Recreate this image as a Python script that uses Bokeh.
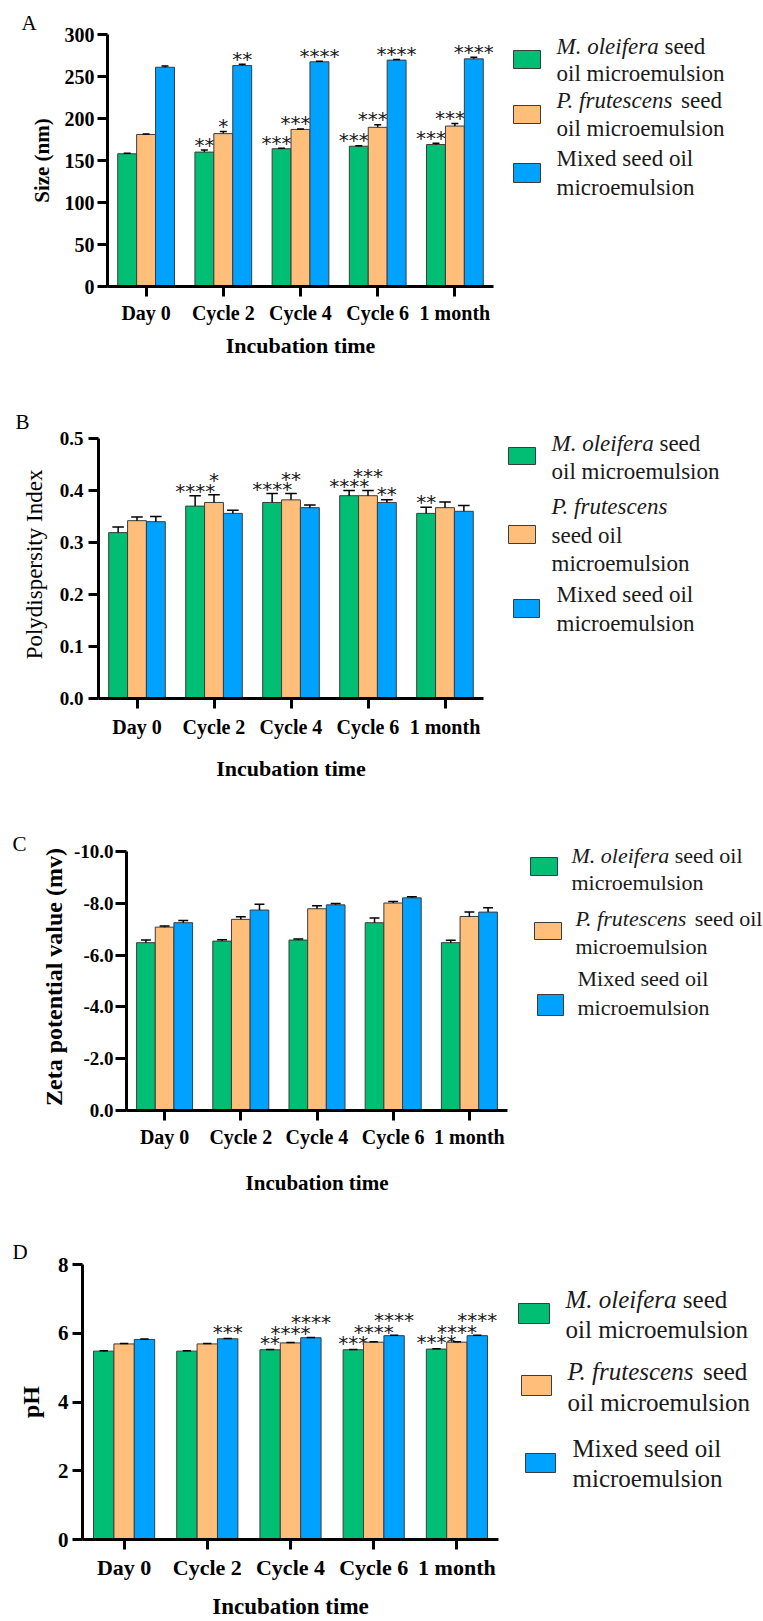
from bokeh.plotting import figure
from bokeh.layouts import column, row
from bokeh.models import ColumnDataSource, FactorRange, Range1d, FixedTicker, PrintfTickFormatter, Label
from bokeh.transform import dodge
from bokeh.core.properties import value
from bokeh.embed import file_html
from bokeh.resources import INLINE

# ---------------- data ----------------
categories = ["Day 0", "Cycle 2", "Cycle 4", "Cycle 6", "1 month"]

# A: droplet size (nm)
size_moringa = [158, 160, 164, 167, 169]
size_moringa_err = [0.6, 2.5, 0.6, 0.6, 1.5]
size_perilla = [181, 182, 187, 189.5, 191]
size_perilla_err = [0.6, 2.5, 0.6, 3.0, 3.0]
size_mixed = [261, 263, 267.5, 269.5, 271]
size_mixed_err = [1.5, 1.5, 0.6, 0.6, 2.0]
size_sig_moringa = ["", "**", "****", "****", "****"]
size_sig_perilla = ["", "*", "****", "****", "****"]
size_sig_mixed = ["", "**", "****", "****", "****"]
size_ticks = [0, 50, 100, 150, 200, 250, 300]

# B: polydispersity index
pdi_moringa = [0.319, 0.370, 0.377, 0.390, 0.356]
pdi_moringa_err = [0.011, 0.020, 0.017, 0.010, 0.012]
pdi_perilla = [0.342, 0.377, 0.382, 0.390, 0.367]
pdi_perilla_err = [0.007, 0.015, 0.012, 0.010, 0.011]
pdi_mixed = [0.340, 0.356, 0.367, 0.377, 0.360]
pdi_mixed_err = [0.010, 0.006, 0.005, 0.005, 0.011]
pdi_sig_moringa = ["", "****", "****", "****", "**"]
pdi_sig_perilla = ["", "*", "**", "***", ""]
pdi_sig_mixed = ["", "", "", "**", ""]
pdi_ticks = [0.0, 0.1, 0.2, 0.3, 0.4, 0.5]

# C: zeta potential (mV)
zeta_moringa = [-6.48, -6.54, -6.58, -7.25, -6.48]
zeta_moringa_err = [0.10, 0.05, 0.04, 0.18, 0.09]
zeta_perilla = [-7.08, -7.38, -7.79, -8.01, -7.49]
zeta_perilla_err = [0.04, 0.10, 0.12, 0.06, 0.17]
zeta_mixed = [-7.25, -7.74, -7.94, -8.21, -7.66]
zeta_mixed_err = [0.09, 0.22, 0.05, 0.04, 0.17]
zeta_sig_none = ["", "", "", "", ""]
zeta_ticks = [0.0, -2.0, -4.0, -6.0, -8.0, -10.0]

# D: pH
ph_moringa = [5.48, 5.48, 5.52, 5.52, 5.54]
ph_moringa_err = [0.01, 0.01, 0.01, 0.01, 0.01]
ph_perilla = [5.69, 5.69, 5.72, 5.74, 5.74]
ph_perilla_err = [0.01, 0.01, 0.01, 0.01, 0.01]
ph_mixed = [5.82, 5.84, 5.87, 5.93, 5.93]
ph_mixed_err = [0.01, 0.01, 0.01, 0.01, 0.01]
ph_sig_moringa = ["", "", "**", "***", "****"]
ph_sig_perilla = ["", "", "****", "****", "****"]
ph_sig_mixed = ["", "***", "****", "****", "****"]
ph_ticks = [0, 2, 4, 6, 8]

# ---------------- style ----------------
FONT = "Liberation Serif"
STAR_FONT = "DejaVu Sans"
COLORS = ["#00BE73", "#FFBE7A", "#00A2FF"]
EDGE = "#3c3c3c"
PAGE_W = 763
OFFSETS = [-0.245, 0.0, 0.245]
BAR_W = 0.245
ITALIC_EM = {"M. oleifera": 4.444, "P. frutescens": 5.166}
SPACE_EM = 0.25


def make_panel(letter, series, errs, sigs, yr, yticks, yfmt, ylabel, g):
    sign = -1 if yr[1] < yr[0] else 1
    data = dict(cat=categories)
    for k in range(3):
        data[f"v{k}"] = series[k]
        data[f"hi{k}"] = [v + sign * e for v, e in zip(series[k], errs[k])]
        data[f"s{k}"] = sigs[k]
        data[f"yo{k}"] = g["star_off"][k]
    src = ColumnDataSource(data)

    ext = g["ext"]                      # extra frame space above the axis top (axis line bounded)
    t_new = g["t"] - ext
    fh_new = g["fh"] + ext
    y_end = yr[1] + ext * (yr[1] - yr[0]) / g["fh"]
    r = g["w"] - g["l"] - g["fw"]

    p = figure(x_range=FactorRange(*categories), y_range=Range1d(yr[0], y_end),
               frame_width=g["fw"], frame_height=fh_new,
               min_border_left=g["l"], min_border_right=r,
               min_border_top=t_new, min_border_bottom=g["b"], output_backend="svg",
               toolbar_location=None, title=letter)
    p.outline_line_color = None
    p.xgrid.visible = False
    p.ygrid.visible = False

    for k in range(3):
        off = OFFSETS[k]
        p.vbar(x=dodge("cat", off, range=p.x_range), top=f"v{k}", bottom=0, width=BAR_W, source=src,
               fill_color=COLORS[k], line_color=EDGE, line_width=1)
        p.segment(x0=dodge("cat", off, range=p.x_range), y0=f"v{k}", x1=dodge("cat", off, range=p.x_range),
                  y1=f"hi{k}", source=src, line_color="black", line_width=1.5)
        p.segment(x0=dodge("cat", off - g["cap"], range=p.x_range), y0=f"hi{k}",
                  x1=dodge("cat", off + g["cap"], range=p.x_range), y1=f"hi{k}", source=src,
                  line_color="black", line_width=1.5)
        p.text(x=dodge("cat", off, range=p.x_range), y=f"hi{k}", text=f"s{k}", source=src,
               text_font=value(STAR_FONT), text_font_size="20px", text_align="center",
               text_baseline="alphabetic", y_offset=f"yo{k}", text_color="#1a1a1a")

    for ax in (p.xaxis[0], p.yaxis[0]):
        ax.axis_line_width = 3
        ax.axis_line_color = "black"
        ax.major_tick_line_width = 3
        ax.major_tick_line_color = "black"
        ax.major_tick_in = 0
        ax.minor_tick_line_color = None
        ax.major_label_text_font = FONT
        ax.major_label_text_font_style = "bold"
        ax.major_label_text_color = "black"
        ax.axis_label_text_font = FONT
        ax.axis_label_text_color = "black"

    xa = p.xaxis[0]
    xa.major_tick_out = 10
    xa.major_label_text_font_size = g["xtick_fs"]
    xa.major_label_standoff = g["xtick_so"]
    xa.axis_label = "Incubation time"
    xa.axis_label_text_font_size = g["xlab_fs"]
    xa.axis_label_text_font_style = "bold"
    xa.axis_label_standoff = g["xlab_so"]

    ya = p.yaxis[0]
    ya.ticker = FixedTicker(ticks=yticks)
    ya.formatter = PrintfTickFormatter(format=yfmt)
    ya.bounds = (min(yr), max(yr))
    ya.major_tick_out = g["ytick_len"]
    ya.major_label_text_font_size = g["ytick_fs"]
    ya.major_label_standoff = g["ytick_so"]
    ya.axis_label = ylabel
    ya.axis_label_text_font_size = g["ylab_fs"]
    ya.axis_label_text_font_style = g["ylab_style"]
    ya.axis_label_standoff = g["ylab_so"]

    p.title.align = "left"
    p.title.offset = g["title_off"]
    p.title.standoff = g["title_so"] - ext
    p.title.text_font = FONT
    p.title.text_font_size = "21px"
    p.title.text_font_style = "normal"
    p.title.text_color = "black"

    # legend figure; its frame lines up with the main frame, ranges in page pixels
    y_top = g["top"] + t_new
    y_bot = y_top + fh_new
    lg = figure(frame_width=PAGE_W - g["w"], frame_height=fh_new,
                x_range=Range1d(g["w"], PAGE_W), y_range=Range1d(y_bot, y_top),
                min_border_left=0, min_border_right=0,
                min_border_top=t_new, min_border_bottom=g["b"],
                x_axis_location=None, y_axis_location=None, output_backend="svg",
                toolbar_location=None)
    lg.outline_line_color = None
    lg.xgrid.visible = False
    lg.ygrid.visible = False
    leg = g["legend"]
    fs = leg["fs"]
    for (x0, x1, y0, y1), color in zip(leg["swatches"], COLORS):
        lg.quad(left=[x0], right=[x1], top=[y0], bottom=[y1], fill_color=color, line_color=EDGE, line_width=1)
    for x, y, ital, normal in leg["lines"]:
        common = dict(x_units="data", y_units="data", text_font=FONT, text_font_size=f"{fs}px",
                      text_baseline="middle", text_align="left", text_color="#1a1a1a")
        if ital:
            lg.add_layout(Label(x=x, y=y, text=ital, text_font_style="italic", **common))
            x = x + (ITALIC_EM[ital] + SPACE_EM) * fs
        if normal:
            lg.add_layout(Label(x=x, y=y, text=normal, text_font_style="normal", **common))
    return row(p, lg)


geoA = dict(top=0, h=380, w=500, l=107, fw=386, t=34, fh=252, b=94, ext=0, cap=0.045,
            xtick_fs="20px", xtick_so=5, xlab_fs="22px", xlab_so=6,
            ytick_len=10, ytick_fs="20px", ytick_so=3, ylab_fs="21px", ylab_style="bold", ylab_so=8,
            title_off=-86, title_so=0,
            star_off=[[-5.5] * 5, [-5.5] * 5, [-5.5] * 5],
            legend=dict(fs=23,
                        swatches=[(513, 540, 50, 68), (513, 540, 105, 123), (513, 540, 163, 182)],
                        lines=[(556, 46, "M. oleifera", "seed"), (556, 73, "", "oil microemulsion"),
                               (556, 100, "P. frutescens", "seed"), (556, 128, "", "oil microemulsion"),
                               (556, 158, "", "Mixed seed oil"), (556, 187, "", "microemulsion")]))

geoB = dict(top=380, h=410, w=500, l=98, fw=385, t=58, fh=260, b=92, ext=8, cap=0.075,
            xtick_fs="20px", xtick_so=7, xlab_fs="22px", xlab_so=15,
            ytick_len=10, ytick_fs="19px", ytick_so=5, ylab_fs="23px", ylab_style="normal", ylab_so=10,
            title_off=-83, title_so=1,
            star_off=[[-5] * 5, [-15] * 5, [-6] * 5],
            legend=dict(fs=23,
                        swatches=[(508, 535, 447, 464), (508, 535, 525, 543), (513, 539, 599, 617)],
                        lines=[(551, 443, "M. oleifera", "seed"), (551, 471, "", "oil microemulsion"),
                               (551, 506, "P. frutescens", ""), (551, 535, "", "seed oil"),
                               (551, 563, "", "microemulsion"),
                               (556, 594, "", "Mixed seed oil"), (556, 623, "", "microemulsion")]))

geoC = dict(top=790, h=410, w=515, l=126, fw=381, t=61, fh=259, b=90, ext=8, cap=0.065,
            xtick_fs="20px", xtick_so=5, xlab_fs="21px", xlab_so=20,
            ytick_len=11, ytick_fs="19px", ytick_so=2, ylab_fs="24px", ylab_style="bold", ylab_so=4,
            title_off=-114, title_so=-17,
            star_off=[[0] * 5, [0] * 5, [0] * 5],
            legend=dict(fs=22,
                        swatches=[(530, 557, 857, 875), (534, 561, 922, 939), (537, 563, 994, 1015)],
                        lines=[(571, 855, "M. oleifera", "seed oil"), (571, 882, "", "microemulsion"),
                               (575, 918, "P. frutescens", "seed oil"), (575, 946, "", "microemulsion"),
                               (577, 978, "", "Mixed seed oil"), (577, 1007, "", "microemulsion")]))

geoD = dict(top=1200, h=421, w=505, l=82, fw=416, t=64, fh=275, b=82, ext=0, cap=0.05,
            xtick_fs="22px", xtick_so=5, xlab_fs="23px", xlab_so=11,
            ytick_len=10, ytick_fs="21px", ytick_so=4, ylab_fs="24px", ylab_style="bold", ylab_so=11,
            title_off=-70, title_so=1,
            star_off=[[-6.5] * 5, [-9.5] * 5, [0, -6, -15, -15, -15]],
            legend=dict(fs=25,
                        swatches=[(518, 549, 1303, 1323), (521, 551, 1375, 1395), (525, 555, 1453, 1472)],
                        lines=[(565, 1299, "M. oleifera", "seed"), (565, 1329, "", "oil microemulsion"),
                               (567, 1371, "P. frutescens", "seed"), (567, 1402, "", "oil microemulsion"),
                               (572, 1448, "", "Mixed seed oil"), (572, 1478, "", "microemulsion")]))

panelA = make_panel("A", [size_moringa, size_perilla, size_mixed],
                    [size_moringa_err, size_perilla_err, size_mixed_err],
                    [size_sig_moringa, size_sig_perilla, size_sig_mixed],
                    (0, 300), size_ticks, "%d", "Size (nm)", geoA)
panelB = make_panel("B", [pdi_moringa, pdi_perilla, pdi_mixed],
                    [pdi_moringa_err, pdi_perilla_err, pdi_mixed_err],
                    [pdi_sig_moringa, pdi_sig_perilla, pdi_sig_mixed],
                    (0, 0.5), pdi_ticks, "%.1f", "Polydispersity Index", geoB)
panelC = make_panel("C", [zeta_moringa, zeta_perilla, zeta_mixed],
                    [zeta_moringa_err, zeta_perilla_err, zeta_mixed_err],
                    [zeta_sig_none, zeta_sig_none, zeta_sig_none],
                    (0, -10), zeta_ticks, "%.1f", "Zeta potential value (mv)", geoC)
panelD = make_panel("D", [ph_moringa, ph_perilla, ph_mixed],
                    [ph_moringa_err, ph_perilla_err, ph_mixed_err],
                    [ph_sig_moringa, ph_sig_perilla, ph_sig_mixed],
                    (0, 8), ph_ticks, "%d", "pH", geoD)

page = column(panelA, panelB, panelC, panelD)
open("out.html", "w").write(file_html(page, INLINE))
